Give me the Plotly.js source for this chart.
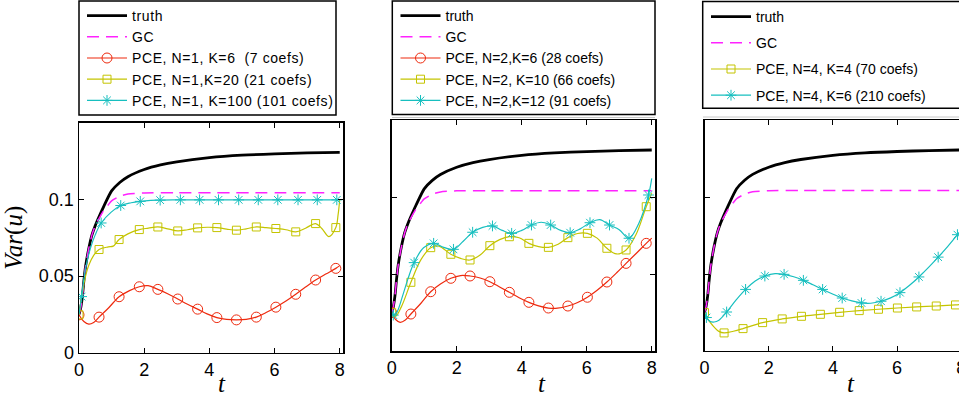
<!DOCTYPE html>
<html><head><meta charset="utf-8">
<script src="https://cdn.plot.ly/plotly-3.0.1.min.js"></script>
<style>
html,body{margin:0;padding:0;overflow:hidden;background:#fff;width:959px;height:402px;}
#chart{width:975px;height:402px;}
.legendtext{letter-spacing:0.6px;}
</style></head><body><div id="chart"></div>
<script>
// ---------- data ----------
const xTicks = [0, 2, 4, 6, 8];
const yTicks = [0, 0.05, 0.1];
const yTickText = ['0', '0.05', '0.1'];

const truthT = [0, 0.05, 0.1, 0.15, 0.2, 0.3, 0.4, 0.5, 0.6, 0.75, 1.0, 1.25, 1.5, 2, 2.5, 3, 4, 5, 6, 7, 8];
const truthV = [0.025, 0.029, 0.036, 0.047, 0.056, 0.068, 0.077, 0.083, 0.088, 0.095, 0.1055, 0.111, 0.1148, 0.1195, 0.1225, 0.1245, 0.1272, 0.1288, 0.1297, 0.1303, 0.1307];
const gcT = [0, 0.05, 0.1, 0.15, 0.2, 0.3, 0.4, 0.5, 0.6, 0.75, 0.9, 1.0, 1.25, 1.5, 2, 3, 8];
const gcV = [0.025, 0.029, 0.036, 0.047, 0.056, 0.068, 0.077, 0.083, 0.087, 0.0925, 0.0965, 0.099, 0.102, 0.1035, 0.1042, 0.1043, 0.1043];

// panel 1 (N=1)
const p1RedMkT = [0, 0.615, 1.23, 1.85, 2.42, 3.03, 3.64, 4.23, 4.83, 5.44, 6.04, 6.65, 7.26, 7.88];
const p1RedMkV = [0.0247, 0.0232, 0.0365, 0.0430, 0.0413, 0.0350, 0.0284, 0.0229, 0.0214, 0.0232, 0.0297, 0.0381, 0.0474, 0.0550];
const p1RedLnT = [0.15, 0.3, 0.45, 0.92, 1.55, 2.12, 2.72, 3.33, 3.93, 4.53, 5.13, 5.74, 6.35, 6.95, 7.57, 8.0];
const p1RedLnV = [0.0203, 0.0186, 0.0197, 0.0295, 0.0405, 0.0437, 0.0385, 0.0316, 0.0253, 0.0217, 0.0217, 0.0262, 0.0337, 0.0428, 0.0513, 0.0568];
const p1YelMkT = [0, 0.615, 1.23, 1.85, 2.42, 3.03, 3.64, 4.23, 4.83, 5.44, 6.04, 6.65, 7.26, 7.88];
const p1YelMkV = [0.0247, 0.0673, 0.0738, 0.0803, 0.0820, 0.0794, 0.0814, 0.0816, 0.0799, 0.0820, 0.0810, 0.0788, 0.0842, 0.0816];
const p1YelLnT = [0.08, 0.18, 0.3, 0.45, 0.9, 1.05, 1.5, 2.13, 2.72, 3.33, 3.93, 4.53, 5.13, 5.74, 6.35, 6.95, 7.45, 7.67, 7.95, 8.0];
const p1YelLnV = [0.036, 0.048, 0.057, 0.0635, 0.069, 0.0695, 0.0775, 0.0812, 0.0808, 0.0802, 0.0818, 0.0806, 0.0808, 0.0816, 0.0802, 0.0812, 0.0810, 0.0757, 0.0900, 0.1000];
const p1CyaMkT = [0.08, 0.68, 1.28, 1.88, 2.49, 3.11, 3.70, 4.28, 4.90, 5.50, 6.10, 6.72, 7.31, 7.91];
const p1CyaMkV = [0.0366, 0.0846, 0.0960, 0.0987, 0.0995, 0.0997, 0.0997, 0.0997, 0.0997, 0.0997, 0.0997, 0.0997, 0.0997, 0.0997];
const p1CyaLnT = [0, 0.2, 0.35, 0.5, 0.98, 1.6, 2.2, 8.0];
const p1CyaLnV = [0.025, 0.055, 0.068, 0.077, 0.0915, 0.0978, 0.0993, 0.0998];

// panel 2 (N=2)
const p2RedMkT = [0, 0.59, 1.2, 1.82, 2.41, 3.02, 3.62, 4.22, 4.82, 5.42, 6.02, 6.62, 7.21, 7.83];
const p2RedMkV = [0.0251, 0.0242, 0.0387, 0.0474, 0.0489, 0.0452, 0.0383, 0.0318, 0.0281, 0.0294, 0.0351, 0.0450, 0.0571, 0.0701];
const p2RedLnT = [0.13, 0.26, 0.42, 0.9, 1.5, 2.12, 2.72, 3.32, 3.92, 4.52, 5.1, 5.72, 6.32, 6.92, 7.52, 8.0];
const p2RedLnV = [0.0205, 0.0188, 0.0203, 0.0312, 0.0437, 0.0492, 0.0476, 0.0418, 0.0348, 0.0295, 0.0280, 0.0317, 0.0396, 0.0510, 0.0635, 0.0735];
const p2YelMkT = [0, 0.59, 1.2, 1.82, 2.41, 3.02, 3.62, 4.22, 4.82, 5.42, 6.02, 6.62, 7.21, 7.83];
const p2YelMkV = [0.0251, 0.0448, 0.0673, 0.0630, 0.0593, 0.0686, 0.0744, 0.0701, 0.0675, 0.0738, 0.0766, 0.0669, 0.0658, 0.0939];
const p2YelLnT = [0.12, 0.3, 0.9, 1.45, 2.12, 2.72, 3.32, 3.92, 4.52, 5.12, 5.72, 6.32, 6.92, 7.52, 8.0];
const p2YelLnV = [0.0228, 0.0290, 0.0595, 0.0683, 0.0603, 0.0625, 0.0725, 0.0737, 0.0680, 0.0695, 0.0765, 0.0735, 0.0632, 0.0760, 0.1026];
const p2CyaMkT = [0.05, 0.69, 1.29, 1.9, 2.49, 3.1, 3.69, 4.3, 4.89, 5.49, 6.1, 6.7, 7.3, 7.9];
const p2CyaMkV = [0.0235, 0.0576, 0.0701, 0.0662, 0.0773, 0.0814, 0.0766, 0.0820, 0.0820, 0.0770, 0.0835, 0.0820, 0.0734, 0.1015];
const p2CyaLnT = [0, 0.15, 0.35, 0.5, 0.98, 1.6, 2.2, 2.8, 3.4, 4.0, 4.6, 5.2, 5.8, 6.4, 7.0, 7.6, 8.0];
const p2CyaLnV = [0.026, 0.025, 0.037, 0.047, 0.0672, 0.0675, 0.0715, 0.0805, 0.0785, 0.0785, 0.0838, 0.0785, 0.0795, 0.0855, 0.0790, 0.0830, 0.1123];

// panel 3 (N=4)
const p3YelMkT = [0, 0.61, 1.2, 1.81, 2.42, 3.02, 3.61, 4.21, 4.82, 5.42, 6.01, 6.61, 7.22, 7.82];
const p3YelMkV = [0.0249, 0.0117, 0.0145, 0.0184, 0.0208, 0.0225, 0.0238, 0.0251, 0.0262, 0.0271, 0.0279, 0.0286, 0.0292, 0.0299];
const p3YelLnT = [0.1, 0.25, 0.45, 0.9, 8.0];
const p3YelLnV = [0.0208, 0.0167, 0.0127, 0.0128, 0.0302];
const p3CyaMkT = [0.06, 0.69, 1.28, 1.88, 2.48, 3.08, 3.68, 4.29, 4.89, 5.5, 6.09, 6.68, 7.28, 7.88];
const p3CyaMkV = [0.0217, 0.0253, 0.0400, 0.0487, 0.0498, 0.0459, 0.0400, 0.0344, 0.0312, 0.0323, 0.0379, 0.0481, 0.0610, 0.0756];
const p3CyaLnT = [0, 0.15, 0.3, 0.45, 0.98, 1.58, 2.2, 2.78, 3.38, 3.99, 4.59, 5.18, 5.8, 6.38, 6.98, 7.58, 8.0];
const p3CyaLnV = [0.025, 0.0195, 0.0188, 0.0200, 0.0330, 0.0455, 0.0503, 0.0482, 0.0430, 0.0370, 0.0325, 0.0310, 0.0345, 0.0425, 0.0543, 0.0680, 0.0788];

const names1 = ['truth', 'GC', 'PCE, N=1, K=6\u00a0 (7 coefs)', 'PCE, N=1,K=20 (21 coefs)', 'PCE, N=1, K=100 (101 coefs)'];
const names2 = ['truth', 'GC', 'PCE, N=2,K=6 (28 coefs)', 'PCE, N=2, K=10 (66 coefs)', 'PCE, N=2,K=12 (91 coefs)'];
const names3 = ['truth', 'GC', 'PCE, N=4, K=4 (70 coefs)', 'PCE, N=4, K=6 (210 coefs)'];

// ---------- build ----------
const W = 975, H = 402;
const px = v => v / W, py = v => 1 - v / H;
const RED = '#ee2a0e', YEL = '#c4c400', CYA = '#17bfbf', MAG = '#ff22ff';

function pceTrace(mT, mV, lT, lV, color, symbol, size, name, ax, leg, grp) {
  const pts = [];
  mT.forEach((t, i) => pts.push([t, mV[i], true]));
  lT.forEach((t, i) => pts.push([t, lV[i], false]));
  pts.sort((a, b) => a[0] - b[0]);
  const sel = [];
  pts.forEach((p, i) => { if (p[2]) sel.push(i); });
  const tr = {
    type: 'scatter', mode: 'lines+markers', name: name,
    x: pts.map(p => p[0]), y: pts.map(p => p[1]),
    xaxis: ax[0], yaxis: ax[1], legend: leg,
    line: {color: color, width: 1.2, shape: 'spline', smoothing: 1},
    marker: {symbol: symbol, size: size, color: color, line: {width: 1, color: color}},
    selectedpoints: sel,
    selected: {marker: {opacity: 1}},
    unselected: {marker: {opacity: 0}},
    hoverinfo: 'skip'
  };
  if (grp) tr.legendgroup = grp;
  return tr;
}
function baseTraces(ax, leg, names, grp) {
  const a = {type: 'scatter', mode: 'lines', name: names[0], x: truthT, y: truthV, xaxis: ax[0], yaxis: ax[1], legend: leg,
    line: {color: '#000', width: 2.8, shape: 'spline', smoothing: 0.6}, hoverinfo: 'skip'};
  const b = {type: 'scatter', mode: 'lines', name: names[1], x: gcT, y: gcV, xaxis: ax[0], yaxis: ax[1], legend: leg,
    line: {color: MAG, width: 1.5, dash: '12px,7px', shape: 'spline', smoothing: 0.6}, hoverinfo: 'skip'};
  if (grp) { a.legendgroup = grp + 'a'; b.legendgroup = grp + 'b'; }
  return [a, b];
}

const A1 = ['x', 'y'], A2 = ['x2', 'y2'], A3 = ['x3', 'y3'];
const data = [
  ...baseTraces(A1, 'legend', names1),
  pceTrace(p1RedMkT, p1RedMkV, p1RedLnT, p1RedLnV, RED, 'circle-open', 10, names1[2], A1, 'legend'),
  pceTrace(p1YelMkT, p1YelMkV, p1YelLnT, p1YelLnV, YEL, 'square-open', 8, names1[3], A1, 'legend'),
  pceTrace(p1CyaMkT, p1CyaMkV, p1CyaLnT, p1CyaLnV, CYA, 'asterisk-open', 9, names1[4], A1, 'legend'),
  ...baseTraces(A2, 'legend2', names2),
  pceTrace(p2RedMkT, p2RedMkV, p2RedLnT, p2RedLnV, RED, 'circle-open', 10, names2[2], A2, 'legend2'),
  pceTrace(p2YelMkT, p2YelMkV, p2YelLnT, p2YelLnV, YEL, 'square-open', 8, names2[3], A2, 'legend2'),
  pceTrace(p2CyaMkT, p2CyaMkV, p2CyaLnT, p2CyaLnV, CYA, 'asterisk-open', 9, names2[4], A2, 'legend2'),
  ...baseTraces(A3, 'legend3', names3, 'g3'),
  pceTrace(p3YelMkT, p3YelMkV, p3YelLnT, p3YelLnV, YEL, 'square-open', 8, names3[2], A3, 'legend3', 'g3c'),
  pceTrace(p3CyaMkT, p3CyaMkV, p3CyaLnT, p3CyaLnV, CYA, 'asterisk-open', 9, names3[3], A3, 'legend3', 'g3d')
];

const tickFont = {family: 'Liberation Sans, Arial, sans-serif', size: 18, color: '#000'};
function axis(extra) {
  return Object.assign({
    showline: true, linecolor: '#000', linewidth: 1.5, mirror: 'ticks',
    ticks: 'inside', ticklen: 5, tickwidth: 1, tickcolor: '#000',
    showgrid: false, zeroline: false, tickfont: tickFont, fixedrange: true
  }, extra);
}
const legFont = {family: 'Liberation Sans, Arial, sans-serif', size: 14, color: '#000'};
function legend(x, y, gap) {
  return {x: px(x), y: py(y), xanchor: 'left', yanchor: 'top', bgcolor: 'rgba(0,0,0,0)', borderwidth: 0,
    font: legFont, itemwidth: 40, tracegroupgap: gap, itemclick: false, itemdoubleclick: false};
}
function box(x0, y0, x1, y1) {
  return {type: 'rect', xref: 'paper', yref: 'paper', x0: px(x0), x1: px(x1), y0: py(y1), y1: py(y0),
    line: {color: '#000', width: 1.5}, fillcolor: 'rgba(0,0,0,0)'};
}
function hline(x0, x1, y) {
  return {type: 'line', xref: 'paper', yref: 'paper', x0: px(x0), x1: px(x1), y0: py(y), y1: py(y),
    line: {color: '#c8c8c8', width: 1}};
}
const tFont = {family: 'Liberation Serif, Times New Roman, serif', size: 25, color: '#000'};

const layout = {
  width: W, height: H, margin: {l: 0, r: 0, t: 0, b: 0},
  paper_bgcolor: '#fff', plot_bgcolor: '#fff', showlegend: true,
  xaxis: axis({domain: [px(79), px(343)], range: [0, 8.1], tickvals: xTicks, anchor: 'y'}),
  yaxis: axis({domain: [py(352.7), py(122.7)], range: [0, 0.15], tickvals: yTicks, ticktext: yTickText, anchor: 'x',
    title: {text: '<i>Var</i>(<i>u</i>)', font: tFont, standoff: 10}}),
  xaxis2: axis({domain: [px(391.7), px(655)], range: [0, 8.1], tickvals: xTicks, anchor: 'y2'}),
  yaxis2: axis({domain: [py(351.3), py(120.3)], range: [0, 0.15], tickvals: yTicks, showticklabels: false, anchor: 'x2'}),
  xaxis3: axis({domain: [px(704.5), px(964.5)], range: [0, 8.1], tickvals: xTicks, anchor: 'y3'}),
  yaxis3: axis({domain: [py(350.9), py(120.3)], range: [0, 0.15], tickvals: yTicks, showticklabels: false, anchor: 'x3'}),
  legend: legend(82, 0, 0),
  legend2: legend(395.5, 0, 0),
  legend3: legend(706, 1, 5),
  shapes: [box(79, 1, 336, 115), box(392.3, 1, 655, 114.5), box(702.7, 1.5, 968, 108.3),
           hline(392, 655, 117.5), hline(703, 968, 117)],
  annotations: [
    {xref: 'paper', yref: 'paper', x: px(221.7), y: py(383), text: '<i>t</i>', showarrow: false, font: tFont, xanchor: 'center', yanchor: 'middle'},
    {xref: 'paper', yref: 'paper', x: px(541.7), y: py(383), text: '<i>t</i>', showarrow: false, font: tFont, xanchor: 'center', yanchor: 'middle'},
    {xref: 'paper', yref: 'paper', x: px(850.7), y: py(383), text: '<i>t</i>', showarrow: false, font: tFont, xanchor: 'center', yanchor: 'middle'}
  ]
};
Plotly.newPlot('chart', data, layout, {staticPlot: true, displayModeBar: false});
</script></body></html>
